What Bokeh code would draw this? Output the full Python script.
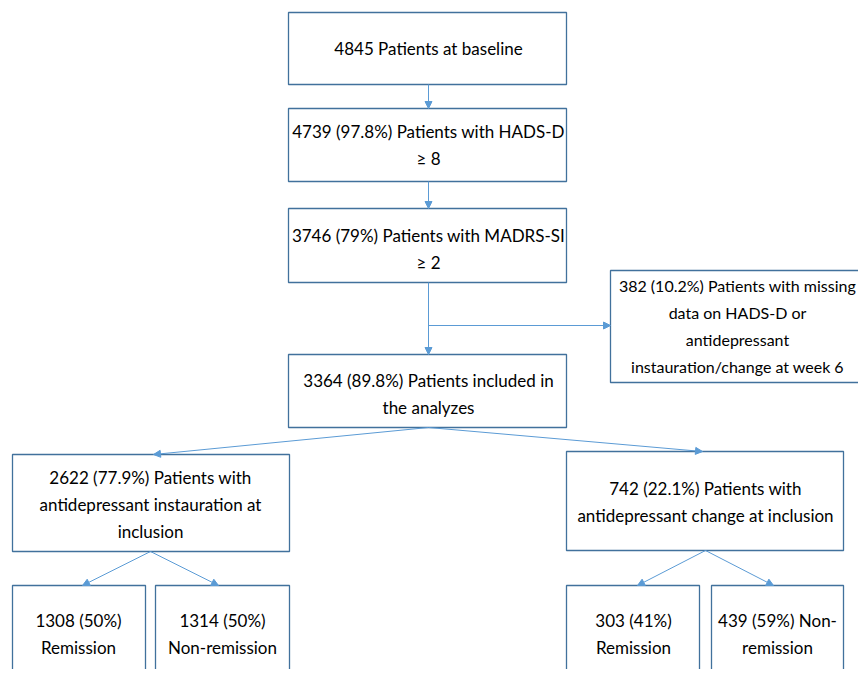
from bokeh.plotting import figure
from bokeh.models import Range1d, Arrow, NormalHead
from bokeh.core.properties import value
from bokeh.embed import file_html
from bokeh.resources import INLINE

# ---- data ----
counts = [4845, 4739, 3746, 382, 3364, 2622, 742, 1308, 1314, 303, 439]
pcts = ["", "97.8%", "79%", "10.2%", "89.8%", "77.9%", "22.1%", "50%", "50%", "41%", "59%"]
box_lines = [
    ["{n} Patients at baseline"],
    ["{n} ({p}) Patients with HADS-D", "≥ 8"],
    ["{n} ({p}) Patients with MADRS-SI", "≥ 2"],
    ["{n} ({p}) Patients with missing", "data on HADS-D or", "antidepressant", "instauration/change at week 6"],
    ["{n} ({p}) Patients included in", "the analyzes"],
    ["{n} ({p}) Patients with", "antidepressant instauration at", "inclusion"],
    ["{n} ({p}) Patients with", "antidepressant change at inclusion"],
    ["{n} ({p})", "Remission"],
    ["{n} ({p})", "Non-remission"],
    ["{n} ({p})", "Remission"],
    ["{n} ({p}) Non-", "remission"],
]

# ---- layout (pixel coordinates of the picture) ----
boxes = [  # left, right, top, bottom, first text line y
    (288, 566, 12, 84, 48),
    (288, 566, 108, 181, 131),
    (288, 566, 208, 282, 235),
    (610, 876, 270, 382, 285),
    (288, 566, 354, 427, 380),
    (12, 289, 454, 551, 477),
    (566, 843, 451, 550, 488),
    (12, 145, 585, 700, 620),
    (155, 289, 585, 700, 620),
    (566, 699, 585, 700, 620),
    (711, 843, 585, 700, 620),
]
text_cx = [428, 428, 428, 737, 428, 150, 705, 78, 222, 633, 777]
text_sz = ["17px"] * 11
text_sz[3] = "16px"
line_h = 27

W, H = 858, 669
p = figure(width=W, height=H, x_range=Range1d(0, W), y_range=Range1d(H, 0),
           output_backend="svg", toolbar_location=None, min_border=0)
p.axis.visible = False
p.grid.visible = False
p.outline_line_color = None
p.background_fill_color = "white"
p.border_fill_color = "white"

box_col = "#41719C"
line_col = "#5B9BD5"

p.quad(left=[b[0] for b in boxes], right=[b[1] for b in boxes],
       top=[b[2] for b in boxes], bottom=[b[3] for b in boxes],
       fill_color="white", line_color=box_col, line_width=1.3)

tx, ty, tt, ts = [], [], [], []
for i, lines in enumerate(box_lines):
    for j, ln in enumerate(lines):
        tx.append(text_cx[i])
        ty.append(boxes[i][4] + j * line_h)
        tt.append(ln.format(n=counts[i], p=pcts[i]))
        ts.append(text_sz[i])
p.text(x=tx, y=ty, text=tt, text_font_size=ts, text_align="center", text_baseline="middle",
       text_font=value("Lato"), text_color="black")

# connectors
connectors = [
    ((428, 84), (428, 108)),
    ((428, 181), (428, 208)),
    ((428, 282), (428, 354)),
    ((428, 325), (610, 325)),
    ((428, 427), (153, 454)),
    ((428, 427), (702, 451)),
    ((150, 551), (82, 585)),
    ((150, 551), (218, 585)),
    ((705, 550), (637, 585)),
    ((705, 550), (773, 585)),
]
for (x0, y0), (x1, y1) in connectors:
    p.add_layout(Arrow(end=NormalHead(size=7, fill_color=line_col, line_color=line_col),
                       x_start=x0, y_start=y0, x_end=x1, y_end=y1,
                       line_color=line_col, line_width=1))

open("out.html", "w").write(file_html(p, INLINE))
